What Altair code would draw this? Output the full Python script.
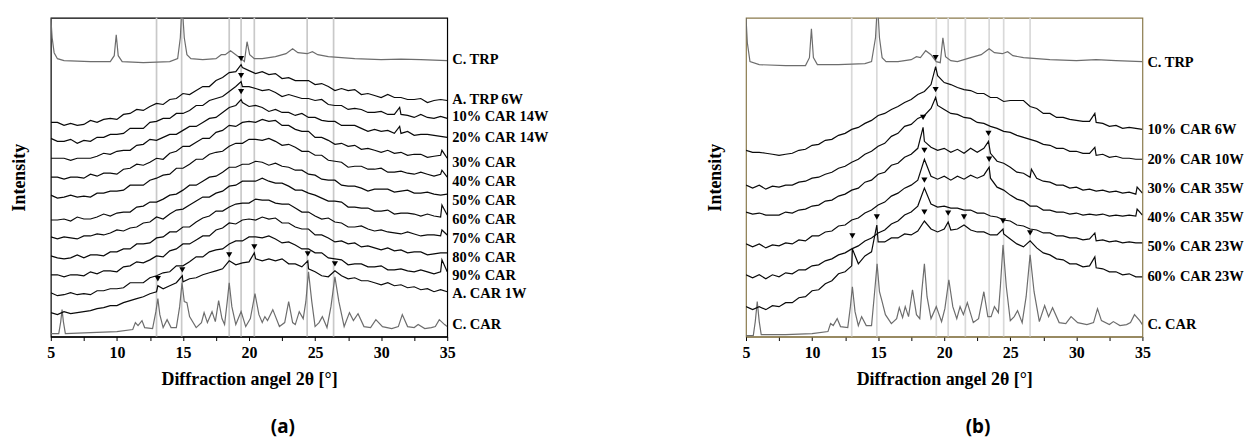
import altair as alt
import pandas as pd

SERIF = "Liberation Serif"

X_GRID = [5.0, 5.5, 6.0, 6.5, 7.0, 7.5, 8.0, 8.5, 9.0, 9.5,
          10.0, 10.5, 11.0, 11.5, 12.0, 12.5, 13.0, 13.5, 14.0, 14.5,
          15.0, 15.5, 16.0, 16.5, 17.0, 17.5, 18.0, 18.5, 19.0, 19.5,
          20.0, 20.5, 21.0, 21.5, 22.0, 22.5, 23.0, 23.5, 24.0, 24.5,
          25.0, 25.5, 26.0, 26.5, 27.0, 27.5, 28.0, 28.5, 29.0, 29.5,
          30.0, 30.5, 31.0, 31.5, 32.0, 32.5, 33.0, 33.5, 34.0, 34.5,
          35.0]

# ---------------- panel (a) amorphous traces ----------------
A_TRP_6W = [215, 215, 212, 214, 212, 213, 217, 215, 218, 219,
            218, 223, 224, 228, 227, 231, 234, 233, 238, 239,
            244, 243, 247, 251, 251, 257, 260, 265, 266, 270,
            267, 264, 266, 263, 264, 259, 260, 257, 257, 257,
            253, 254, 251, 247, 249, 247, 248, 243, 244, 242,
            240, 243, 240, 240, 238, 238, 239, 235, 237, 238,
            237]
A_TRP_6W_SPK = [(19.4, 273)]
A_C10 = [199, 196, 196, 198, 194, 197, 196, 200, 200, 203,
         203, 204, 209, 209, 209, 215, 216, 219, 219, 224,
         224, 227, 232, 232, 237, 239, 241, 246, 251, 251,
         251, 249, 247, 248, 245, 241, 243, 241, 239, 239,
         237, 238, 233, 232, 232, 228, 229, 228, 225, 225,
         226, 223, 223, 223, 222, 220, 223, 220, 219, 221,
         219]
A_C10_SPK = [(19.4, 256), (31.4, 230)]
A_C20 = [179, 179, 179, 177, 179, 179, 179, 181, 184, 183,
         186, 187, 187, 192, 193, 198, 197, 200, 203, 203,
         207, 211, 211, 215, 219, 220, 225, 230, 232, 235,
         231, 232, 230, 226, 228, 225, 225, 222, 224, 220,
         220, 217, 216, 216, 212, 212, 212, 209, 206, 208,
         206, 207, 204, 204, 206, 202, 203, 203, 202, 201,
         200]
A_C20_SPK = [(19.4, 238), (31.4, 211)]
A_C30 = [160, 160, 158, 160, 160, 159, 163, 161, 164, 164,
         163, 168, 169, 173, 172, 175, 179, 178, 184, 186,
         191, 191, 195, 199, 199, 205, 207, 212, 211, 215,
         216, 215, 218, 216, 217, 212, 212, 208, 206, 206,
         200, 200, 197, 193, 194, 191, 192, 188, 189, 187,
         185, 187, 184, 185, 182, 183, 183, 180, 181, 182,
         179]
A_C30_SPK = [(34.6, 187)]
A_C40 = [142, 139, 140, 142, 140, 141, 140, 144, 144, 146,
         146, 147, 152, 152, 152, 157, 159, 162, 163, 169,
         169, 173, 178, 178, 183, 185, 186, 191, 194, 194,
         198, 198, 197, 199, 196, 192, 193, 190, 186, 186,
         182, 182, 177, 176, 175, 170, 171, 171, 168, 168,
         169, 165, 165, 166, 164, 163, 165, 163, 161, 163,
         160]
A_C40_SPK = [(34.6, 167)]
A_C50 = [117, 117, 118, 116, 120, 118, 118, 120, 123, 121,
         124, 125, 125, 130, 131, 135, 135, 138, 142, 143,
         147, 152, 152, 156, 160, 161, 165, 170, 170, 173,
         173, 176, 175, 172, 174, 171, 170, 167, 167, 163,
         162, 158, 157, 157, 152, 151, 151, 149, 146, 148,
         148, 148, 145, 146, 147, 144, 144, 145, 143, 142,
         143]
A_C50_SPK = []
A_C60 = [100, 98, 100, 99, 98, 101, 101, 103, 102, 104,
         107, 106, 109, 110, 114, 115, 120, 118, 123, 127,
         128, 132, 136, 140, 140, 144, 146, 151, 152, 156,
         156, 156, 159, 156, 154, 154, 151, 147, 147, 144,
         142, 139, 136, 136, 135, 130, 130, 129, 129, 126,
         126, 127, 123, 124, 124, 123, 121, 123, 121, 120,
         122]
A_C60_SPK = [(34.6, 132)]
A_C70 = [81, 79, 78, 79, 82, 79, 82, 82, 81, 85,
         85, 88, 88, 93, 93, 94, 99, 100, 105, 105,
         110, 110, 115, 119, 121, 126, 126, 130, 133, 134,
         134, 138, 137, 137, 134, 133, 133, 129, 125, 125,
         121, 118, 119, 115, 114, 110, 110, 111, 108, 106,
         107, 105, 104, 103, 105, 103, 101, 102, 102, 101,
         102]
A_C70_SPK = [(34.6, 107)]
A_C80 = [62, 62, 60, 62, 62, 61, 65, 63, 66, 66,
         65, 70, 71, 75, 74, 77, 81, 80, 86, 88,
         93, 93, 97, 101, 101, 107, 109, 114, 113, 117,
         118, 117, 120, 118, 119, 114, 114, 110, 108, 108,
         102, 102, 99, 95, 96, 93, 94, 90, 91, 89,
         87, 89, 86, 87, 84, 85, 85, 82, 83, 84,
         84]
A_C80_SPK = []
A_C90 = [44, 41, 42, 44, 42, 43, 42, 46, 46, 48,
         48, 49, 54, 54, 54, 59, 61, 64, 65, 71,
         71, 75, 80, 80, 85, 87, 88, 93, 96, 96,
         100, 100, 99, 101, 98, 94, 95, 92, 88, 88,
         84, 84, 79, 78, 77, 72, 73, 73, 70, 70,
         71, 67, 67, 68, 66, 65, 67, 65, 63, 65,
         65]
A_C90_SPK = [(34.6, 77)]
A_CAR_1W = [24, 22, 25, 23, 24, 25, 26, 28, 29, 31,
            31, 34, 36, 38, 40, 43, 45, 48, 51, 54,
            55, 58, 59, 62, 64, 66, 68, 71, 72, 74,
            75, 78, 76, 78, 76, 78, 73, 73, 70, 68,
            65, 61, 60, 60, 61, 58, 59, 56, 56, 54,
            52, 54, 51, 52, 49, 50, 47, 48, 45, 47,
            45]
A_CAR_1W_SPK = [(13.1, 51), (14.95, 61), (18.5, 76), (20.4, 84), (24.45, 76), (26.5, 66)]

# ---------------- panel (a) crystalline traces ----------------
A_CTRP_X = [5.0, 5.1, 5.25, 5.5, 6.0, 8.0, 9.5, 9.8, 9.95, 10.1, 10.4, 12.0, 14.0, 14.6, 14.8,
            14.93, 15.1, 15.3, 15.6, 16.5, 17.5, 17.9, 18.2, 18.6, 19.0, 19.4, 19.65, 19.85,
            20.05, 20.4, 21.0, 22.0, 22.8, 23.3, 23.7, 24.4, 24.8, 25.2, 26.0, 28.0, 30.0,
            31.5, 33.0, 35.0]
A_CTRP_Y = [320, 300, 285, 279, 277, 276, 276, 282, 303, 282, 276, 275, 276, 279, 300,
            335, 300, 283, 279, 278, 279, 283, 283, 287, 283, 279, 276, 296,
            283, 279, 279, 281, 284, 289, 285, 284, 286, 283, 281, 279, 278,
            278.5, 278, 277]
A_CCAR_X = [5.0, 5.6, 5.75, 5.85, 5.95, 6.1, 8.0, 10.0, 11.2, 11.4, 11.6, 11.9, 12.1, 12.7,
            12.95, 13.1, 13.25, 13.5, 13.8, 14.1, 14.5, 14.75, 14.93, 15.1, 15.3, 15.5, 16.0,
            16.4, 16.6, 16.85, 17.2, 17.45, 17.7, 17.95, 18.15, 18.35, 18.5, 18.7, 19.0, 19.4,
            19.75, 20.1, 20.45, 20.75, 21.0, 21.2, 21.4, 21.8, 22.3, 22.7, 23.0, 23.3, 23.5,
            23.8, 24.1, 24.3, 24.5, 24.75, 25.0, 25.3, 25.55, 25.9, 26.2, 26.5, 26.8, 27.2,
            27.6, 27.9, 28.25, 28.7, 29.2, 29.6, 30.1, 30.8, 31.3, 31.6, 32.0, 32.5, 32.8,
            33.3, 33.8, 34.1, 34.4, 34.8, 35.0]
A_CCAR_Y = [3, 3, 15, 27, 15, 3, 4, 5, 7, 14, 11, 16, 9, 8,
            25, 38, 22, 9, 17, 9, 9, 30, 54, 35, 34, 20, 9,
            14, 24, 14, 25, 15, 36, 18, 12, 35, 54, 30, 12, 25,
            10, 18, 43, 22, 14, 20, 16, 27, 10, 14, 35, 14, 12,
            25, 18, 35, 65, 35, 10, 14, 20, 9, 30, 60, 35, 10,
            24, 16, 23, 10, 9, 17, 10, 8, 10, 22, 10, 9, 12,
            8, 9, 10, 17, 12, 10]

A_VLINES = [13.0, 14.9, 18.5, 19.4, 20.4, 24.4, 26.4]
A_ARROW_X = [19.4, 19.4, 19.4, 13.1, 14.95, 18.5, 20.4, 24.45, 26.5]
A_ARROW_Y = [279, 262, 246, 58, 67, 82, 90, 83, 73]
A_LABELS = ["C. TRP", "A. TRP 6W", "10% CAR 14W", "20% CAR 14W", "30% CAR", "40% CAR",
            "50% CAR", "60% CAR", "70% CAR", "80% CAR", "90% CAR", "A. CAR 1W", "C. CAR"]
A_LABEL_Y = [278, 237, 220, 199, 174, 155, 136, 117, 98, 79, 61, 43, 12]

# ---------------- panel (b) amorphous traces ----------------
B_C10_6W = [187, 185, 185, 184, 183, 182, 183, 184, 187, 188,
            192, 193, 197, 198, 202, 204, 208, 210, 214, 217,
            222, 224, 228, 231, 235, 238, 243, 246, 253, 262,
            255, 253, 250, 248, 247, 244, 244, 240, 240, 236,
            237, 237, 237, 231, 229, 224, 224, 220, 220, 218,
            217, 216, 216, 215, 214, 211, 212, 209, 210, 209,
            208]
B_C10_6W_SPK = [(19.35, 271), (31.4, 224)]
B_C20_10W = [152, 149, 152, 148, 151, 150, 152, 152, 155, 156,
             159, 160, 163, 165, 169, 171, 175, 178, 183, 186,
             191, 194, 201, 204, 211, 213, 219, 222, 229, 232,
             228, 224, 223, 220, 219, 215, 214, 211, 209, 206,
             205, 202, 200, 198, 196, 193, 192, 189, 189, 186,
             186, 184, 184, 182, 183, 180, 181, 179, 179, 178,
             178]
B_C20_10W_SPK = [(19.35, 240), (31.4, 190)]
B_C30_35W = [125, 123, 124, 122, 122, 122, 125, 124, 127, 128,
             131, 132, 136, 137, 141, 143, 147, 149, 155, 157,
             163, 165, 172, 174, 180, 183, 189, 196, 190, 187,
             189, 185, 188, 184, 189, 185, 189, 184, 176, 174,
             170, 165, 164, 160, 159, 156, 155, 152, 152, 149,
             150, 147, 148, 146, 147, 145, 146, 144, 145, 143,
             144]
B_C30_35W_SPK = [(18.4, 210), (23.35, 196), (26.6, 168), (34.6, 150)]
B_C40_35W = [93, 90, 93, 89, 92, 91, 94, 93, 97, 96,
             101, 101, 105, 106, 111, 112, 117, 119, 124, 127,
             132, 135, 141, 144, 149, 152, 157, 170, 161, 158,
             161, 157, 161, 158, 162, 159, 162, 159, 150, 147,
             142, 138, 136, 131, 131, 127, 127, 125, 125, 123,
             124, 122, 123, 122, 123, 121, 122, 121, 122, 121,
             122]
B_C40_35W_SPK = [(18.5, 178), (23.4, 170), (34.6, 128)]
B_C50_23W = [62, 59, 62, 58, 62, 60, 64, 63, 67, 67,
             71, 72, 76, 78, 82, 84, 88, 91, 96, 99,
             104, 107, 113, 116, 122, 125, 131, 140, 133, 130,
             131, 129, 129, 127, 127, 124, 124, 121, 120, 117,
             116, 112, 111, 108, 107, 104, 104, 101, 101, 99,
             99, 97, 98, 96, 97, 95, 96, 94, 95, 94,
             94]
B_C50_23W_SPK = [(18.5, 149), (31.4, 104)]
B_C60_23W = [30, 27, 30, 27, 31, 30, 34, 34, 39, 40,
             46, 47, 53, 56, 63, 65, 71, 73, 81, 85,
             95, 95, 99, 99, 103, 102, 106, 110, 108, 105,
             108, 107, 108, 110, 107, 105, 105, 102, 102, 103,
             98, 93, 90, 92, 89, 84, 82, 78, 77, 73,
             73, 70, 71, 69, 68, 65, 65, 62, 63, 60,
             60]
B_C60_23W_SPK = [(13.05, 88), (14.9, 112), (18.5, 116), (20.3, 115), (21.5, 112),
                 (24.45, 108), (26.5, 96), (31.4, 80)]

# ---------------- panel (b) crystalline traces ----------------
B_CTRP_X = [5.0, 5.1, 5.3, 6.0, 8.0, 9.5, 9.8, 9.95, 10.1, 10.4, 12.0, 14.0, 14.5, 14.8, 14.95,
            15.1, 15.3, 15.6, 16.5, 17.5, 17.9, 18.2, 18.6, 19.0, 19.4, 19.7, 19.9, 20.1, 20.5,
            21.0, 22.0, 22.8, 23.4, 23.8, 24.4, 24.8, 25.2, 26.0, 28.0, 30.0, 31.5, 33.0, 35.0]
B_CTRP_Y = [320, 295, 276, 273, 272, 272, 280, 309, 280, 273, 273, 274, 276, 300, 335,
            300, 280, 276, 276, 278, 281, 280, 287, 283, 276, 275, 300, 281, 277,
            276, 280, 283, 289, 285, 284, 286, 282, 280, 278, 277, 278, 277, 276]
B_CCAR_X = [5.0, 5.55, 5.7, 5.85, 6.0, 6.15, 8.0, 10.0, 11.2, 11.4, 11.6, 11.9, 12.15, 12.7,
            12.9, 13.05, 13.25, 13.5, 13.75, 14.1, 14.5, 14.7, 14.92, 15.1, 15.3, 15.55, 16.0,
            16.4, 16.6, 16.85, 17.05, 17.3, 17.6, 17.9, 18.15, 18.3, 18.5, 18.7, 19.0, 19.4,
            19.8, 20.05, 20.35, 20.65, 20.95, 21.2, 21.45, 21.75, 22.2, 22.6, 23.0, 23.3,
            23.55, 23.8, 24.1, 24.25, 24.45, 24.7, 25.0, 25.3, 25.55, 25.9, 26.2, 26.5, 26.8,
            27.2, 27.6, 27.9, 28.2, 28.7, 29.2, 29.6, 30.1, 30.8, 31.3, 31.6, 31.9, 32.5,
            32.8, 33.3, 33.8, 34.1, 34.4, 34.8, 35.0]
B_CCAR_Y = [1, 1, 15, 35, 15, 2, 2, 3, 5, 13, 11, 18, 10, 9,
            30, 50, 25, 11, 20, 11, 11, 40, 73, 45, 35, 22, 13,
            18, 29, 19, 30, 20, 47, 22, 18, 45, 73, 40, 18, 30,
            15, 28, 57, 30, 18, 30, 22, 34, 14, 18, 45, 20,
            20, 30, 24, 50, 92, 50, 16, 20, 26, 14, 40, 82, 45,
            15, 31, 20, 29, 14, 13, 20, 14, 12, 14, 28, 16, 12,
            15, 11, 12, 14, 22, 16, 12]

B_VLINES = [13.0, 14.9, 19.4, 20.3, 21.6, 23.4, 24.5, 26.5]
B_ARROW_X = [19.35, 19.35, 18.4, 23.35, 18.5, 23.4, 18.5, 13.05, 14.9, 18.5, 20.3, 21.5, 24.45, 26.5]
B_ARROW_Y = [280, 248, 220, 204, 187, 178, 157, 101, 120, 125, 124, 120, 116, 104]
B_LABELS = ["C. TRP", "10% CAR 6W", "20% CAR 10W", "30% CAR 35W", "40% CAR 35W",
            "50% CAR 23W", "60% CAR 23W", "C. CAR"]
B_LABEL_Y = [275, 207, 177, 148, 119, 90, 60, 12]


def grid_trace(name, ys, spikes):
    pts = {x: y for x, y in zip(X_GRID, ys)}
    for x, y in spikes:
        pts[x] = y
    items = sorted(pts.items())
    return pd.DataFrame({"trace": name, "x": [p[0] for p in items],
                         "y": [p[1] for p in items], "i": list(range(len(items)))})


def xy_trace(name, xs, ys):
    return pd.DataFrame({"trace": name, "x": xs, "y": ys, "i": list(range(len(xs)))})


TICKS = [5, 7.5, 10, 12.5, 15, 17.5, 20, 22.5, 25, 27.5, 30, 32.5, 35]


def panel(amorph, cryst, vlines, ax, ay, labels, label_y, border, vcolor, caption):
    xs = alt.Scale(domain=[5, 35], nice=False, zero=False)
    ys = alt.Scale(domain=[0, 320], nice=False, zero=False)
    X = alt.X("x:Q", scale=xs, axis=alt.Axis(
        title="Diffraction angel 2θ [°]", values=TICKS,
        labelExpr="datum.value % 5 == 0 ? datum.label : ''",
        labelFont=SERIF, labelFontWeight="bold", labelFontSize=16, labelColor="black",
        labelPadding=4, labelFlush=False, labelOverlap=False,
        tickSize=4, tickColor="black", domainColor=border, domainWidth=1.2,
        titleFont=SERIF, titleFontWeight="bold", titleFontSize=18, titleColor="black",
        titlePadding=10, grid=False))
    Y = alt.Y("y:Q", scale=ys, axis=alt.Axis(
        title="Intensity", labels=False, ticks=False, domain=False, grid=False,
        titleFont=SERIF, titleFontWeight="bold", titleFontSize=18, titleColor="black",
        titlePadding=22))

    vl = alt.Chart(pd.DataFrame({"x": vlines})).mark_rule(
        color=vcolor, strokeWidth=1.7).encode(x=X)
    cr = alt.Chart(pd.concat(cryst, ignore_index=True)).mark_line(
        color="#6d6d6d", strokeWidth=1.2, clip=True).encode(
        x=X, y=Y, detail="trace:N", order="i:Q")
    am = alt.Chart(pd.concat(amorph, ignore_index=True)).mark_line(
        color="#0a0a0a", strokeWidth=1.2, clip=True).encode(
        x=X, y=Y, detail="trace:N", order="i:Q")
    ar = alt.Chart(pd.DataFrame({"x": ax, "y": ay})).mark_point(
        shape="triangle-down", filled=True, size=38, color="black", opacity=1).encode(x=X, y=Y)
    tx = alt.Chart(pd.DataFrame({"x": [35] * len(labels), "y": label_y, "label": labels})).mark_text(
        align="left", baseline="middle", dx=5, font=SERIF, fontWeight="bold",
        fontSize=14.5, color="black").encode(x=X, y=Y, text="label:N")
    return alt.layer(vl, cr, am, ar, tx).properties(
        width=398, height=320,
        view=alt.ViewBackground(stroke=border, strokeWidth=1.2),
        title=alt.TitleParams(caption, orient="bottom", font="Noto Sans", fontSize=19,
                              fontWeight="bold", color="black", offset=30, dx=34,
                              anchor="middle"))


a_am = [grid_trace("A. TRP 6W", A_TRP_6W, A_TRP_6W_SPK),
        grid_trace("10% CAR 14W", A_C10, A_C10_SPK),
        grid_trace("20% CAR 14W", A_C20, A_C20_SPK),
        grid_trace("30% CAR", A_C30, A_C30_SPK),
        grid_trace("40% CAR", A_C40, A_C40_SPK),
        grid_trace("50% CAR", A_C50, A_C50_SPK),
        grid_trace("60% CAR", A_C60, A_C60_SPK),
        grid_trace("70% CAR", A_C70, A_C70_SPK),
        grid_trace("80% CAR", A_C80, A_C80_SPK),
        grid_trace("90% CAR", A_C90, A_C90_SPK),
        grid_trace("A. CAR 1W", A_CAR_1W, A_CAR_1W_SPK)]
a_cr = [xy_trace("C. TRP", A_CTRP_X, A_CTRP_Y), xy_trace("C. CAR", A_CCAR_X, A_CCAR_Y)]

b_am = [grid_trace("10% CAR 6W", B_C10_6W, B_C10_6W_SPK),
        grid_trace("20% CAR 10W", B_C20_10W, B_C20_10W_SPK),
        grid_trace("30% CAR 35W", B_C30_35W, B_C30_35W_SPK),
        grid_trace("40% CAR 35W", B_C40_35W, B_C40_35W_SPK),
        grid_trace("50% CAR 23W", B_C50_23W, B_C50_23W_SPK),
        grid_trace("60% CAR 23W", B_C60_23W, B_C60_23W_SPK)]
b_cr = [xy_trace("C. TRP", B_CTRP_X, B_CTRP_Y), xy_trace("C. CAR", B_CCAR_X, B_CCAR_Y)]

pa = panel(a_am, a_cr, A_VLINES, A_ARROW_X, A_ARROW_Y, A_LABELS, A_LABEL_Y,
           "black", "#c9c9c9", "(a)")
pb = panel(b_am, b_cr, B_VLINES, B_ARROW_X, B_ARROW_Y, B_LABELS, B_LABEL_Y,
           "#8a7a4c", "#d9d9d9", "(b)")

chart = alt.hconcat(pa, pb, spacing=300, bounds="flush").properties(
    padding={"left": 2, "top": 7, "right": 0, "bottom": 0}
).configure(background="white")

chart.save("out.html", embed_options={"renderer": "svg", "actions": False})
